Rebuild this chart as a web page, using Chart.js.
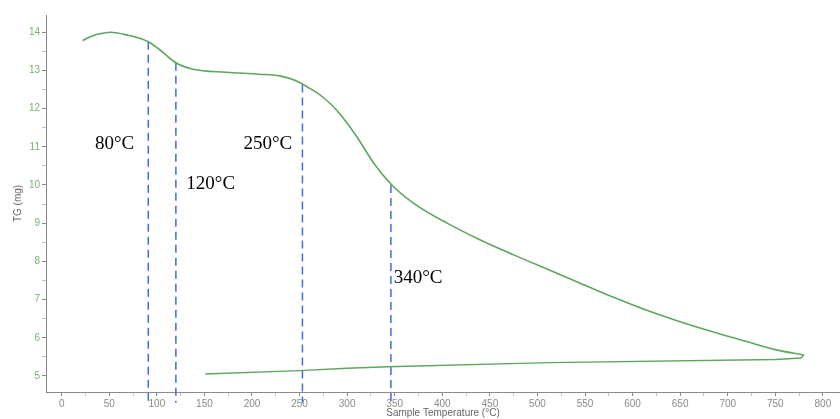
<!DOCTYPE html>
<html>
<head>
<meta charset="utf-8">
<script src="https://cdn.jsdelivr.net/npm/chart.js@4.4.1/dist/chart.umd.min.js"></script>
<style>
  html, body { margin: 0; padding: 0; background: #fff; }
  #wrap { width: 840px; height: 419px; }
</style>
</head>
<body>
<div id="wrap"><canvas id="c" width="840" height="419"></canvas></div>
<script>
// Heating branch (sample temperature °C, TG mg)
const heatTemps = [22, 30, 40, 51, 68, 91, 103, 120, 138, 173, 208, 230, 245, 260, 275, 290, 310, 328, 347, 370, 405, 440, 475, 510, 545, 580, 615, 650, 685, 720, 750, 780];
const heatTG    = [13.78, 13.88, 13.96, 14.0, 13.93, 13.75, 13.54, 13.2, 13.03, 12.95, 12.9, 12.85, 12.74, 12.54, 12.29, 11.93, 11.27, 10.57, 10.0, 9.52, 9.0, 8.56, 8.17, 7.8, 7.43, 7.06, 6.72, 6.42, 6.15, 5.9, 5.69, 5.55];
// Return branch
const coolTemps = [780, 777, 750, 513, 343, 300, 250, 151];
const coolTG    = [5.55, 5.47, 5.43, 5.35, 5.24, 5.2, 5.14, 5.05];
// Marker lines
const markerTemps  = [91, 120, 253, 346];
const markerTop    = [13.75, 13.2, 12.63, 10.0];
const markerBottom = 4.3;
const markerLabels = ['80°C', '120°C', '250°C', '340°C'];
const labelTemps   = [35, 131, 191, 349];
const labelTG      = [11.08, 10.02, 11.08, 7.57];
// Axis ticks
const xTickValues = [0, 50, 100, 150, 200, 250, 300, 350, 400, 450, 500, 550, 600, 650, 700, 750, 800];
const yTickValues = [5, 6, 7, 8, 9, 10, 11, 12, 13, 14];

const green = '#5ea65e';
const blue = '#3d6fd8';

const datasets = [
  {
    data: heatTemps.map((t, i) => ({x: t, y: heatTG[i]})),
    borderColor: green, borderWidth: 1.6, pointRadius: 0, cubicInterpolationMode: 'monotone', fill: false
  },
  {
    data: coolTemps.map((t, i) => ({x: t, y: coolTG[i]})),
    borderColor: green, borderWidth: 1.4, pointRadius: 0, tension: 0, fill: false
  }
];
markerTemps.forEach((t, i) => {
  datasets.push({
    data: [{x: t, y: markerTop[i]}, {x: t, y: markerBottom}],
    borderColor: blue, borderWidth: 1.5, borderDash: [8, 5], pointRadius: 0, clip: false, fill: false
  });
});

function withMinor(values, step) {
  const out = [];
  for (let i = 0; i < values.length; i++) {
    out.push(values[i]);
    if (i < values.length - 1) out.push(values[i] + step);
  }
  return out;
}

const labelPlugin = {
  id: 'tempLabels',
  afterDatasetsDraw(chart) {
    const ctx = chart.ctx;
    const xs = chart.scales.x, ys = chart.scales.y;
    ctx.save();
    ctx.font = '19px "Liberation Serif", "Times New Roman", serif';
    ctx.fillStyle = '#000';
    ctx.textAlign = 'left';
    ctx.textBaseline = 'middle';
    markerLabels.forEach((txt, i) => {
      ctx.fillText(txt, xs.getPixelForValue(labelTemps[i]), ys.getPixelForValue(labelTG[i]));
    });
    ctx.restore();
  }
};

new Chart(document.getElementById('c'), {
  type: 'line',
  data: { datasets },
  plugins: [labelPlugin],
  options: {
    responsive: false,
    animation: false,
    layout: { padding: { top: 15, right: 0, bottom: 0, left: 0 } },
    plugins: { legend: { display: false }, tooltip: { enabled: false } },
    scales: {
      x: {
        type: 'linear',
        min: -16.5, max: 818,
        afterBuildTicks: s => { s.ticks = withMinor(xTickValues, 25).map(v => ({value: v})); },
        afterFit: s => { s.height = 27; },
        ticks: {
          autoSkip: false, maxRotation: 0, padding: 2,
          color: '#8a8a8a',
          font: { family: 'Arial, "Liberation Sans", sans-serif', size: 10 },
          callback: v => (v % 50 === 0 ? String(v) : '')
        },
        grid: {
          drawOnChartArea: false, drawTicks: true, tickLength: 4,
          color: c => (c.tick && c.tick.value % 50 === 0 ? '#8a8a8a' : '#c4c4c4')
        },
        border: { display: true, color: '#8a8a8a', width: 1 },
        title: {
          display: true, text: 'Sample Temperature (°C)', color: '#666',
          font: { family: 'Arial, "Liberation Sans", sans-serif', size: 10 },
          padding: { top: 0, bottom: 0 }
        }
      },
      y: {
        type: 'linear',
        min: 4.58, max: 14.45,
        afterBuildTicks: s => { s.ticks = withMinor(yTickValues, 0.5).map(v => ({value: v})); },
        afterFit: s => { s.width = 46; },
        ticks: {
          autoSkip: false, padding: 2,
          color: '#6fb56f',
          font: { family: 'Arial, "Liberation Sans", sans-serif', size: 10 },
          callback: v => (Number.isInteger(v) ? String(v) : '')
        },
        grid: {
          drawOnChartArea: false, drawTicks: true, tickLength: 4,
          color: c => (c.tick && Number.isInteger(c.tick.value) ? '#8a8a8a' : '#c4c4c4')
        },
        border: { display: true, color: '#8a8a8a', width: 1 },
        title: {
          display: true, text: 'TG (mg)', color: '#666',
          font: { family: 'Arial, "Liberation Sans", sans-serif', size: 10 },
          padding: { top: 12, bottom: 0 }
        }
      }
    }
  }
});
</script>
</body>
</html>
